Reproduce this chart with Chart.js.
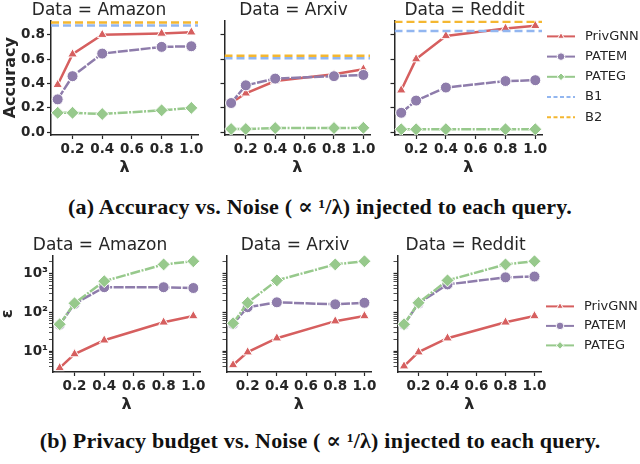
<!DOCTYPE html>
<html>
<head>
<meta charset="utf-8">
<script src="https://cdn.jsdelivr.net/npm/chart.js@4.4.0/dist/chart.umd.min.js"></script>
<style>
  html, body { margin: 0; padding: 0; background: #fff; }
  #fig { position: relative; width: 640px; height: 464px; overflow: hidden; }
  .panel { position: absolute; }
  .caption { position: absolute; left: 0; width: 640px; text-align: center;
             font-family: "Liberation Serif", "DejaVu Serif", serif; font-weight: bold;
             font-size: 22px; line-height: 24px; letter-spacing: 0.2px; color: #111; }
</style>
</head>
<body>
<div id="fig">
  <div class="panel" style="left:0px;top:0px;width:210px;height:177px"><canvas id="accAmazon"></canvas></div>
  <div class="panel" style="left:217px;top:0px;width:165px;height:177px"><canvas id="accArxiv"></canvas></div>
  <div class="panel" style="left:387px;top:0px;width:253px;height:177px"><canvas id="accReddit"></canvas></div>
  <div class="caption" style="top:195px">(a) Accuracy vs. Noise ( ∝ ¹/λ) injected to each query.</div>
  <div class="panel" style="left:0px;top:235px;width:210px;height:179px"><canvas id="epsAmazon"></canvas></div>
  <div class="panel" style="left:219px;top:235px;width:163px;height:179px"><canvas id="epsArxiv"></canvas></div>
  <div class="panel" style="left:390px;top:235px;width:250px;height:179px"><canvas id="epsReddit"></canvas></div>
  <div class="caption" style="top:429px">(b) Privacy budget vs. Noise ( ∝ ¹/λ) injected to each query.</div>
</div>
<script>
// data
const lambdas = [0.1, 0.2, 0.4, 0.8, 1.0];
const datasetNames = ["Amazon", "Arxiv", "Reddit"];

// accuracy, one row per dataset (Amazon, Arxiv, Reddit)
const accPrivGNN = [
  [0.39, 0.64, 0.80, 0.81, 0.82],
  [0.24, 0.32, 0.42, 0.476, 0.517],
  [0.345, 0.60, 0.79, 0.85, 0.873]
];
const accPATEM = [
  [0.27, 0.46, 0.645, 0.70, 0.705],
  [0.24, 0.385, 0.44, 0.46, 0.47],
  [0.16, 0.26, 0.367, 0.42, 0.427]
];
const accPATEG = [
  [0.16, 0.16, 0.15, 0.18, 0.20],
  [0.027, 0.027, 0.035, 0.035, 0.037],
  [0.025, 0.025, 0.026, 0.025, 0.025]
];
const accB1 = [0.876, 0.607, 0.83];
const accB2 = [0.90, 0.628, 0.905];
const accTicks = [0.0, 0.2, 0.4, 0.6, 0.8];

// privacy budget epsilon
const epsPrivGNN = [
  [3.7, 8.4, 19, 55, 80],
  [4.4, 9.4, 21.5, 59, 80],
  [4.1, 9.4, 21.5, 55, 80]
];
const epsPATEM = [
  [48, 165, 440, 440, 420],
  [50, 135, 180, 160, 175],
  [48, 170, 520, 790, 830]
];
const epsPATEG = [
  [49, 170, 630, 1700, 2050],
  [52, 175, 660, 1700, 2050],
  [49, 175, 660, 1700, 2050]
];

const X_MIN = 0.055, X_MAX = 1.045;
const AXIS = "#262626";
const SUP = { 1: "\u00b9", 2: "\u00b2", 3: "\u00b3" };

const STYLE = {
  PrivGNN: { color: "#d65f5f", point: "triangle", radius: 5.5, dash: [] },
  PATEM:   { color: "#8e7cab", point: "circle",   radius: 5.5, dash: [10, 1.5] },
  PATEG:   { color: "#97c98c", point: "rectRot",  radius: 6.5, dash: [10, 1.5, 2, 1.5] },
  B1:      { color: "#92b6f0", dash: [8, 4] },
  B2:      { color: "#f4b731", dash: [8, 4] }
};

Chart.defaults.font.family = "'DejaVu Sans', sans-serif";
Chart.defaults.color = AXIS;

// legend drawn to the right of the last panel in each row
const sideLegend = {
  id: "sideLegend",
  afterDraw(chart, args, opts) {
    if (!opts || !opts.items) return;
    const ctx = chart.ctx, a = chart.chartArea;
    ctx.save();
    opts.items.forEach(function (name, i) {
      const st = STYLE[name];
      const y = a.top + opts.top + i * opts.gap;
      const x0 = a.right + opts.left, x1 = x0 + 28;
      ctx.strokeStyle = st.color;
      ctx.lineWidth = 2;
      ctx.setLineDash(st.point ? [] : [4, 2.5]);
      ctx.beginPath(); ctx.moveTo(x0, y); ctx.lineTo(x1, y); ctx.stroke();
      ctx.setLineDash([]);
      if (st.point) {
        ctx.fillStyle = st.color;
        ctx.strokeStyle = "#fff";
        ctx.lineWidth = 1;
        Chart.helpers.drawPoint(ctx, { pointStyle: st.point, radius: 3.8, borderWidth: 1, rotation: 0 }, (x0 + x1) / 2, y);
      }
      ctx.fillStyle = AXIS;
      ctx.font = "13px 'DejaVu Sans'";
      ctx.textBaseline = "middle";
      ctx.textAlign = "left";
      ctx.fillText(name, x1 + 10, y);
    });
    ctx.restore();
  }
};

function lineSet(name, values, order) {
  const st = STYLE[name];
  return {
    label: name,
    data: lambdas.map(function (x, i) { return { x: x, y: values[i] }; }),
    borderColor: st.color,
    backgroundColor: st.color,
    borderWidth: 2.5,
    borderDash: st.dash,
    pointStyle: st.point,
    pointRadius: st.radius,
    pointBackgroundColor: st.color,
    pointBorderColor: "#fff",
    pointBorderWidth: 1,
    tension: 0,
    order: order
  };
}

function refSet(name, value) {
  const st = STYLE[name];
  return {
    label: name,
    data: [{ x: X_MIN, y: value }, { x: X_MAX, y: value }],
    borderColor: st.color,
    borderWidth: 2.5,
    borderDash: st.dash,
    pointRadius: 0,
    order: -1
  };
}

function xScale() {
  return {
    type: "linear", min: X_MIN, max: X_MAX,
    border: { color: AXIS, width: 1.5 },
    grid: { drawOnChartArea: false, drawTicks: true, tickLength: 4, tickColor: AXIS, tickWidth: 1.2 },
    ticks: {
      stepSize: 0.2, includeBounds: false, padding: 2, maxRotation: 0, autoSkip: false,
      color: AXIS, font: { size: 13.5, weight: "bold" },
      callback: function (v) { return v.toFixed(1); }
    },
    title: { display: true, text: "λ", color: AXIS, font: { size: 16, weight: "bold" }, padding: 0 },
    afterFit: function (s) { s.height = 42; s.paddingLeft = 0; s.paddingRight = 0; }
  };
}

function makeChart(id, datasets, yScale, title, padRight, legend) {
  new Chart(document.getElementById(id), {
    type: "line",
    data: { datasets: datasets },
    options: {
      responsive: true, maintainAspectRatio: false, animation: false,
      layout: { padding: { left: 0, top: 0, right: padRight, bottom: 0 } },
      plugins: {
        legend: { display: false },
        tooltip: { enabled: false },
        title: { display: true, text: title, color: AXIS, font: { size: 17, weight: "normal" }, padding: 0 },
        sideLegend: legend || false
      },
      scales: { x: xScale(), y: yScale }
    },
    plugins: [sideLegend]
  });
}

function accScale(showLabels, width) {
  return {
    type: "linear", min: -0.022, max: 0.917,
    border: { color: AXIS, width: 1.5 },
    grid: { drawOnChartArea: false, drawTicks: true, tickLength: 4, tickColor: AXIS, tickWidth: 1.2 },
    afterBuildTicks: function (s) { s.ticks = accTicks.map(function (v) { return { value: v }; }); },
    ticks: {
      display: showLabels, padding: 2, autoSkip: false,
      color: AXIS, font: { size: 13.5, weight: "bold" },
      callback: function (v) { return v.toFixed(1); }
    },
    title: { display: showLabels, text: "Accuracy", color: AXIS, font: { size: 16, weight: "bold" }, padding: { top: 1.4 } },
    afterFit: function (s) { s.width = width; s.paddingTop = 0; s.paddingBottom = 0; }
  };
}

function isNiceLog(v) {
  const m = v / Math.pow(10, Math.floor(Math.log10(v) + 1e-9));
  return Math.abs(m - Math.round(m)) < 1e-6;
}

function epsScale(showLabels, width) {
  return {
    type: "logarithmic", min: 2.9, max: 2900,
    border: { color: AXIS, width: 1.5 },
    grid: {
      drawOnChartArea: false, drawTicks: true, tickLength: 4, tickColor: AXIS,
      tickWidth: function (c) { return c.tick && c.tick.major ? 1.3 : 0.8; }
    },
    afterBuildTicks: function (s) {
      s.ticks = s.ticks.filter(function (t) { return isNiceLog(t.value); })
        .map(function (t) { return { value: t.value, major: Math.abs(Math.log10(t.value) % 1) < 1e-9 }; });
    },
    ticks: {
      display: showLabels, padding: 1, autoSkip: false,
      color: AXIS, font: { size: 13.5, weight: "bold" },
      callback: function (v) {
        const e = Math.log10(v);
        return Math.abs(e - Math.round(e)) < 1e-9 ? "10" + SUP[Math.round(e)] : "";
      }
    },
    title: { display: showLabels, text: "ε", color: AXIS, font: { size: 16, weight: "bold", lineHeight: 1 }, padding: 0 },
    afterFit: function (s) { s.width = width; s.paddingTop = 0; s.paddingBottom = 0; }
  };
}

// top row: accuracy
const accYw = [51, 6, 6];
const accPad = [12, 12, 98];
datasetNames.forEach(function (name, k) {
  const sets = [
    refSet("B1", accB1[k]),
    refSet("B2", accB2[k]),
    lineSet("PrivGNN", accPrivGNN[k], 2),
    lineSet("PATEM", accPATEM[k], 1),
    lineSet("PATEG", accPATEG[k], 0)
  ];
  const legend = k === 2 ? { items: ["PrivGNN", "PATEM", "PATEG", "B1", "B2"], left: 5, top: 16, gap: 20.2 } : null;
  makeChart("acc" + name, sets, accScale(k === 0, accYw[k]), "Data = " + name, accPad[k], legend);
});

// bottom row: privacy budget
const epsYw = [53, 6, 6];
const epsPad = [10, 11, 99];
datasetNames.forEach(function (name, k) {
  const sets = [
    lineSet("PrivGNN", epsPrivGNN[k], 2),
    lineSet("PATEM", epsPATEM[k], 1),
    lineSet("PATEG", epsPATEG[k], 0)
  ];
  const legend = k === 2 ? { items: ["PrivGNN", "PATEM", "PATEG"], left: 5, top: 51, gap: 19.5 } : null;
  makeChart("eps" + name, sets, epsScale(k === 0, epsYw[k]), "Data = " + name, epsPad[k], legend);
});
</script>
</body>
</html>
